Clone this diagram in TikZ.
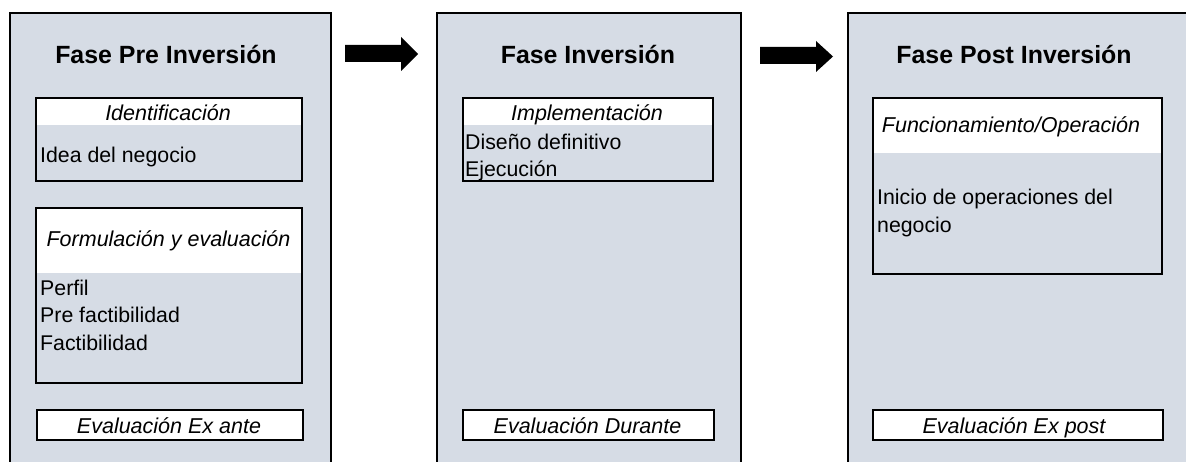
\documentclass[tikz,border=0pt]{standalone}
\usepackage{fontspec}
\setmainfont{Liberation Sans}
\definecolor{panelgray}{RGB}{214,220,229}
\tikzset{
  panel/.style={draw=black, line width=2pt, fill=panelgray, anchor=north west, inner sep=0, minimum height=480},
  inbox/.style={fill=panelgray, anchor=north west, inner sep=0},
  boxline/.style={draw=black, line width=2pt},
  evalbox/.style={draw=black, line width=2pt, fill=white, anchor=north west, inner sep=0, minimum height=30},
  ttl/.style={anchor=base, font=\fontsize{24.9}{28}\selectfont\bfseries, inner sep=0},
  hd/.style={anchor=base, font=\fontsize{21.5}{26}\selectfont\itshape, inner sep=0},
  bd/.style={anchor=base west, font=\fontsize{21.3}{26}\selectfont, inner sep=0},
  blockarrow/.style={fill=black}
}
\begin{document}
\begin{tikzpicture}[x=1pt,y=-1pt]
\useasboundingbox (0,0) rectangle (1186,462);
\fill[white] (0,0) rectangle (1186,462);
\clip (0,0) rectangle (1186,462);

% panels
\node[panel, minimum width=321] (p1) at (9,12) {};
\node[panel, minimum width=304] (p2) at (436,12) {};
\node[panel, minimum width=360] (p3) at (847,12) {};

% block arrows
\fill[blockarrow] (345,45) -- (401,45) -- (401,37) -- (418,54) -- (401,71) -- (401,62) -- (345,62) -- cycle;
\fill[blockarrow] (760,47) -- (816,47) -- (816,41) -- (833,56.5) -- (816,72) -- (816,64) -- (760,64) -- cycle;

% titles
\node[ttl] (t1) at (166,64) {Fase Pre Inversión};
\node[ttl] (t2) at (588,64) {Fase Inversión};
\node[ttl] (t3) at (1014,64) {Fase Post Inversión};

% inner boxes
\node[inbox, minimum width=266, minimum height=83] (bA) at (36,98) {};
\fill[white] (bA.north west) rectangle (302,125);
\draw[boxline] (bA.north west) rectangle (bA.south east);
\node[hd] (hA) at (168,120.5) {Identificación};
\node[bd] (tA1) at (40,163) {Idea del negocio};

\node[inbox, minimum width=266, minimum height=175] (bB) at (36,208) {};
\fill[white] (bB.north west) rectangle (302,273);
\draw[boxline] (bB.north west) rectangle (bB.south east);
\node[hd] (hB) at (168.5,247) {Formulación y evaluación};
\node[bd] (tB1) at (40,296) {Perfil};
\node[bd] (tB2) at (40,323) {Pre factibilidad};
\node[bd] (tB3) at (40,350) {Factibilidad};

\node[inbox, minimum width=250, minimum height=83] (bD) at (463,98) {};
\fill[white] (bD.north west) rectangle (713,125);
\draw[boxline] (bD.north west) rectangle (bD.south east);
\node[hd] (hD) at (587,120.5) {Implementación};
\node[bd] (tD1) at (465,150) {Diseño definitivo};
\node[bd] (tD2) at (465,177) {Ejecución};

\node[inbox, minimum width=289, minimum height=176] (bF) at (873,98) {};
\fill[white] (bF.north west) rectangle (1162,153);
\draw[boxline] (bF.north west) rectangle (bF.south east);
\node[hd] (hF) at (1011,133) {Funcionamiento/Operación};
\node[bd] (tF1) at (877,205) {Inicio de operaciones del};
\node[bd] (tF2) at (877,233) {negocio};

% evaluation boxes
\node[evalbox, minimum width=266] (eA) at (36,409) {};
\node[hd] (eAt) at (169,433) {Evaluación Ex ante};
\node[evalbox, minimum width=251] (eD) at (462,409) {};
\node[hd] (eDt) at (587.5,433) {Evaluación Durante};
\node[evalbox, minimum width=290] (eF) at (872,409) {};
\node[hd] (eFt) at (1014,433) {Evaluación Ex post};
\end{tikzpicture}
\end{document}
